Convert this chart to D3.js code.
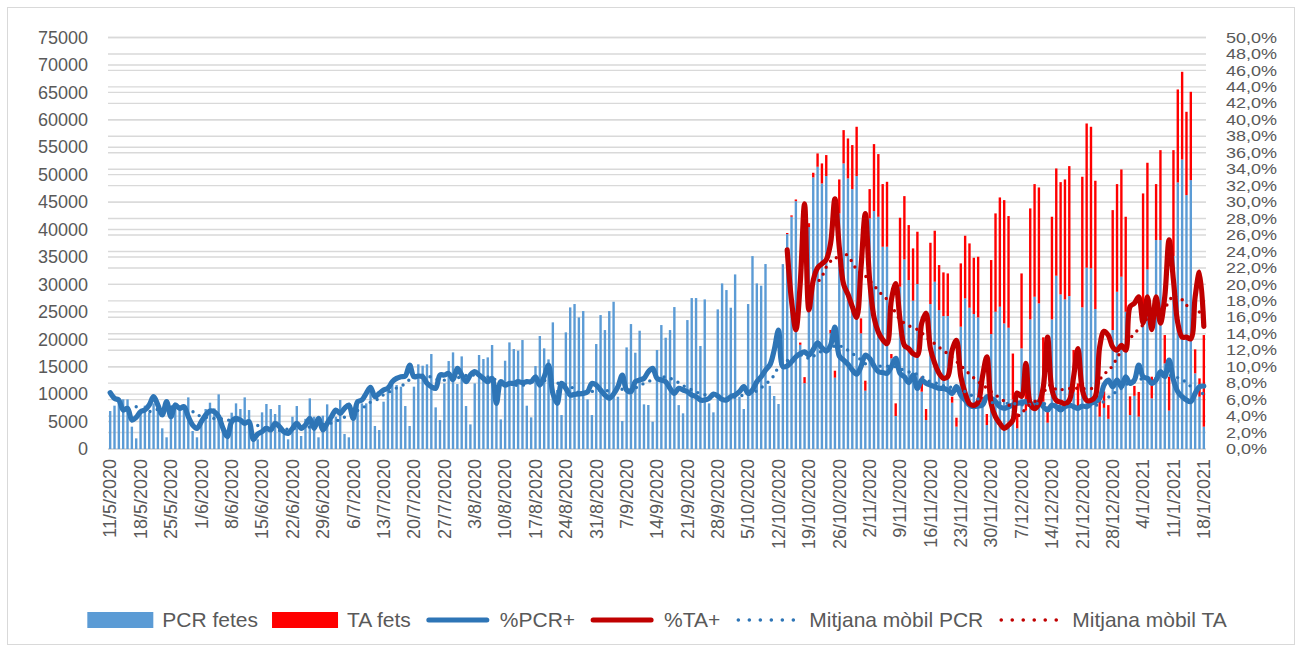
<!DOCTYPE html>
<html>
<head>
<meta charset="utf-8">
<script src="https://cdn.jsdelivr.net/npm/d3@7"></script>
<style>
  body { margin: 0; background: #fff; }
  text { font-family: "Liberation Sans", Arial, sans-serif; fill: #595959; }
</style>
</head>
<body>
<svg id="chart" width="1302" height="650"></svg>
<script>
// one value per day from 11/5/2020 to 18/1/2021, rows are weeks (Mon..Sun)
const firstDay = "11/5/2020";
const lastDay = "18/1/2021";

const pcrFetes = [
  6920, 7900, 9050, 9050, 9050, 4070, 1940,
  6920, 7900, 6620, 8320, 7410, 3770, 2130,
  6920, 8440, 7100, 7710, 9410, 3280, 2130,
  5280, 7290, 8440, 7410, 9960, 3460, 1940,
  6620, 8320, 7290, 9410, 7100, 2550, 1760,
  6680, 8200, 7290, 6380, 8020, 2730, 1760,
  5890, 7830, 2370, 5500, 9230, 5890, 2130,
  6070, 8140, 5280, 5890, 8930, 2730, 2130,
  6500, 9050, 8320, 8320, 11480, 4190, 3460,
  8620, 11660, 11660, 11660, 11360, 7830, 4190,
  11360, 15430, 15180, 15430, 17310, 7590, 5280,
  11960, 16030, 17610, 11840, 16880, 7830, 4490,
  11960, 17130, 16400, 16700, 18950, 9530, 5400,
  16090, 19430, 18220, 17920, 19860, 7890, 5770,
  15120, 20590, 18340, 16340, 23080, 10750, 6190,
  21260, 25810, 26420, 23990, 25140, 9050, 6190,
  19130, 24410, 21680, 25140, 26840, 9530, 5100,
  18520, 22770, 17550, 21560, 8140, 8020, 4980,
  18040, 22590, 20280, 21680, 25870, 8000, 6500,
  23500, 27510, 27510, 18770, 27270, 8320, 6680,
  25450, 30180, 28970, 25750, 31820, 9530, 7290,
  26420, 35160, 30180, 29760, 33710, 11500, 9660,
  8200, 33700, 39170, 42330, 45180, 19000, 12000,
  40450, 49500, 51440, 48400, 49740, 21100, 13000,
  42940, 52050, 49320, 47370, 49740, 21080, 10630,
  42030, 43360, 42330, 36860, 36860, 16520, 6010,
  29580, 34560, 30790, 27030, 30060, 10450, 5280,
  26420, 30490, 25320, 24230, 24230, 8440, 4070,
  22290, 27450, 25750, 24600, 23990, 8000, 4370,
  20950, 25020, 25930, 22890, 22100, 9000, 3770,
  18340, 7000, 23620, 27750, 26540, 8620, 4800,
  23620, 31580, 28180, 27270, 27870, 10450, 7100,
  25810, 33040, 32920, 25510, 5890, 7500, 5500,
  21680, 28660, 31400, 25020, 6190, 9700, 5900,
  25630, 32730, 9230, 38080, 38080, 15600, 7000,
  35160, 48580, 52770, 46280, 49010, 13790, 9530,
  4070
];

const pctPCR = [
  6.84, 6.15, 5.95, 4.74, 4.94, 3.52, 3.85,
  4.53, 4.74, 5.34, 6.36, 5.34, 4.13, 5.75,
  3.93, 5.34, 4.94, 5.14, 3.93, 2.91, 2.51,
  3.32, 4.13, 4.61, 4.53, 3.93, 2.51, 1.50,
  3.32, 3.72, 3.52, 3.12, 3.32, 1.17, 1.82,
  2.11, 2.51, 2.31, 3.12, 2.71, 2.11, 1.90,
  2.51, 3.12, 2.51, 2.91, 3.72, 2.51, 3.72,
  2.31, 3.12, 3.93, 4.74, 4.33, 4.94, 5.34,
  3.72, 5.75, 5.95, 6.76, 7.49, 6.36, 6.76,
  7.17, 7.37, 8.18, 8.58, 8.78, 8.87, 10.20,
  8.78, 8.87, 8.78, 7.98, 7.57, 7.37, 8.99,
  8.99, 9.19, 8.46, 9.80, 8.99, 8.18, 8.99,
  9.39, 8.99, 8.58, 8.18, 8.58, 5.55, 8.18,
  7.77, 7.98, 7.98, 8.18, 8.06, 8.18, 8.18,
  8.78, 7.77, 8.78, 10.20, 6.76, 5.55, 7.98,
  7.37, 6.56, 6.64, 6.68, 6.76, 6.96, 7.98,
  7.77, 7.17, 6.56, 6.15, 6.68, 7.57, 8.99,
  7.17, 6.96, 8.18, 8.38, 8.58, 9.39, 9.80,
  8.58, 8.38, 8.18, 7.37, 6.76, 7.37, 7.17,
  6.96, 6.56, 6.36, 5.95, 5.95, 6.15, 6.68,
  6.44, 6.03, 5.95, 6.36, 6.56, 6.96, 7.57,
  6.76, 7.17, 8.18, 8.78, 9.59, 10.20, 12.02,
  14.45, 10.00, 10.10, 10.60, 11.20, 11.60, 11.80,
  11.40, 12.10, 12.90, 12.30, 11.90, 12.60, 14.80,
  11.30, 10.80, 10.30, 9.60, 9.10, 10.00, 11.40,
  11.00, 10.10, 9.40, 9.30, 9.20, 10.00, 11.01,
  9.19, 8.78, 8.06, 8.99, 7.37, 8.38, 7.98,
  7.77, 7.57, 7.37, 7.37, 7.17, 6.76, 7.57,
  6.56, 5.95, 5.34, 5.14, 5.22, 5.34, 6.36,
  6.15, 5.75, 5.14, 4.94, 5.14, 5.34, 5.55,
  5.63, 5.75, 5.55, 5.34, 5.75, 5.14, 4.74,
  5.34, 5.14, 4.74, 5.14, 5.34, 5.14, 4.94,
  5.22, 5.14, 5.55, 5.75, 6.15, 7.77, 8.38,
  7.57, 8.38, 7.57, 8.78, 7.98, 8.38, 10.20,
  8.78, 8.58, 7.98, 8.38, 9.39, 8.78, 10.81,
  8.38, 6.96, 6.36, 5.95, 5.75, 6.76, 7.57,
  7.65
];

// antigen tests only reported from 12/10/2020
const taFirstDay = "12/10/2020";
const taFets = [
  0, 0, 200, 250, 300, 400, 1100,
  700, 850, 2430, 3650, 3830, 600, 1270,
  6190, 6070, 7280, 8020, 8990, 2730, 1820,
  5340, 12210, 11420, 11420, 11840, 790, 2310,
  12570, 11530, 10020, 9530, 9540, 2730, 2010,
  11170, 9290, 8200, 7960, 7770, 1090, 1640,
  11540, 11420, 11720, 10260, 11050, 1500, 2010,
  13490, 17920, 19920, 22470, 20350, 8400, 2730,
  13660, 5000, 20230, 20530, 21130, 11730, 2910,
  18710, 19550, 20460, 21860, 23690, 7590, 4860,
  23810, 26290, 25810, 23380, 3040, 3000, 2500,
  21860, 19620, 19550, 17310, 3410, 1800, 4500,
  20950, 19440, 3950, 10200, 16390, 5170, 6180,
  19310, 16950, 15980, 15180, 16090, 4370, 3340,
  16700
];
const pctTA = [
  null, null, 24.2, 18.0, 14.5, 20.1, 29.8,
  16.9, 20.5, 22.0, 22.5, 23.0, 25.0, 30.4,
  24.5, 20.0, 18.8, 17.3, 16.0, 22.0, 28.6,
  20.5, 16.0, 14.2, 13.3, 12.8, 18.1, 20.1,
  15.7, 12.6, 12.2, 11.6, 11.4, 15.3, 16.5,
  12.2, 10.4, 9.2, 8.6, 8.8, 12.0, 13.2,
  8.8, 6.8, 5.5, 5.3, 5.7, 8.8, 11.2,
  5.5, 3.9, 3.1, 2.5, 2.9, 3.5, 6.8,
  6.4, 10.4, 5.5, 4.9, 5.5, 7.5, 13.6,
  7.2, 5.9, 5.7, 5.5, 5.9, 8.8, 12.2,
  7.2, 5.9, 5.9, 6.4, 12.4, 14.3, 13.8,
  12.4, 12.0, 12.6, 12.0, 17.3, 17.7, 18.5,
  15.3, 18.5, 14.5, 18.5, 15.3, 18.5, 25.4,
  20.5, 15.3, 13.6, 13.6, 13.4, 18.5, 21.5,
  14.9
];

const leftTicks = [0, 5000, 10000, 15000, 20000, 25000, 30000, 35000, 40000,
  45000, 50000, 55000, 60000, 65000, 70000, 75000];
const rightTicks = [0, 0.02, 0.04, 0.06, 0.08, 0.10, 0.12, 0.14, 0.16, 0.18, 0.20,
  0.22, 0.24, 0.26, 0.28, 0.30, 0.32, 0.34, 0.36, 0.38, 0.40, 0.42, 0.44, 0.46, 0.48, 0.50];
const trendPeriod = 7; // Excel moving-average trendline

const legendItems = [
  { label: "PCR fetes", type: "rect", color: "#5B9BD5" },
  { label: "TA fets", type: "rect", color: "#FF0000" },
  { label: "%PCR+", type: "line", color: "#2E75B6" },
  { label: "%TA+", type: "line", color: "#C00000" },
  { label: "Mitjana mòbil PCR", type: "dot", color: "#2E75B6" },
  { label: "Mitjana mòbil TA", type: "dot", color: "#C00000" }
];

const plotL = 108, plotR = 1206, plotT = 37.5, plotB = 449;

const parse = d3.timeParse("%d/%m/%Y");
const fmt = d3.timeFormat("%-d/%-m/%Y");
const days = d3.timeDay.range(parse(firstDay), d3.timeDay.offset(parse(lastDay), 1));
const cats = days.map(fmt);
const taOffset = cats.indexOf(fmt(parse(taFirstDay)));

const rows = cats.map((c, i) => ({
  cat: c,
  pcr: pcrFetes[i],
  ta: i >= taOffset ? taFets[i - taOffset] : 0,
  ppcr: pctPCR[i] / 100,
  pta: i >= taOffset && pctTA[i - taOffset] != null ? pctTA[i - taOffset] / 100 : null
}));

function movingAvg(vals, n) {
  return vals.map((v, i) => {
    if (i < n - 1) return null;
    const win = vals.slice(i - n + 1, i + 1);
    if (win.some(d => d == null)) return null;
    return d3.mean(win);
  });
}
const maPCR = movingAvg(rows.map(d => d.ppcr), trendPeriod);
const maTA = movingAvg(rows.map(d => d.pta), trendPeriod);

const svg = d3.select("#chart");

svg.append("rect")
  .attr("x", 7.5).attr("y", 7.5)
  .attr("width", 1287).attr("height", 637)
  .attr("fill", "#fff")
  .attr("stroke", "#D9D9D9").attr("stroke-width", 1);

const x = d3.scaleBand().domain(cats).range([plotL, plotR])
  .paddingInner(0.45).paddingOuter(0.225);
const yL = d3.scaleLinear().domain([0, 75000]).range([plotB, plotT]);
const yR = d3.scaleLinear().domain([0, 0.5]).range([plotB, plotT]);
const cx = c => x(c) + x.bandwidth() / 2;

// gridlines for both value axes
const grid = svg.append("g");
grid.selectAll("line.gl").data(leftTicks).enter().append("line")
  .attr("x1", plotL).attr("x2", plotR)
  .attr("y1", d => yL(d)).attr("y2", d => yL(d))
  .attr("stroke", "#D9D9D9").attr("stroke-width", 1.4);
grid.selectAll("line.gr").data(rightTicks).enter().append("line")
  .attr("x1", plotL).attr("x2", plotR)
  .attr("y1", d => yR(d)).attr("y2", d => yR(d))
  .attr("stroke", "#D9D9D9").attr("stroke-width", 1.4);

// stacked bars
const stack = d3.stack().keys(["pcr", "ta"])(rows);
const barColors = { pcr: "#5B9BD5", ta: "#FF0000" };
svg.append("g").selectAll("g").data(stack).enter().append("g")
  .attr("fill", d => barColors[d.key])
  .selectAll("rect").data(d => d).enter().append("rect")
  .attr("x", d => x(d.data.cat))
  .attr("width", x.bandwidth())
  .attr("y", d => yL(d[1]))
  .attr("height", d => yL(d[0]) - yL(d[1]));

// rate lines
const smooth = d3.line()
  .defined(d => d[1] != null)
  .x(d => cx(d[0]))
  .y(d => yR(d[1]))
  .curve(d3.curveCatmullRom.alpha(0.5));
const straight = d3.line()
  .defined(d => d[1] != null)
  .x(d => cx(d[0]))
  .y(d => yR(d[1]));

svg.append("path")
  .attr("d", smooth(rows.map(d => [d.cat, d.ppcr])))
  .attr("fill", "none").attr("stroke", "#2E75B6")
  .attr("stroke-width", 5.2).attr("stroke-linejoin", "round").attr("stroke-linecap", "round");
svg.append("path")
  .attr("d", smooth(rows.map(d => [d.cat, d.pta])))
  .attr("fill", "none").attr("stroke", "#C00000")
  .attr("stroke-width", 5.2).attr("stroke-linejoin", "round").attr("stroke-linecap", "round");

// moving-average trendlines (round dots)
svg.append("path")
  .attr("d", straight(rows.map((d, i) => [d.cat, maPCR[i]])))
  .attr("fill", "none").attr("stroke", "#2E75B6")
  .attr("stroke-width", 3.4).attr("stroke-linecap", "round")
  .attr("stroke-dasharray", "0 7.5");
svg.append("path")
  .attr("d", straight(rows.map((d, i) => [d.cat, maTA[i]])))
  .attr("fill", "none").attr("stroke", "#C00000")
  .attr("stroke-width", 3.4).attr("stroke-linecap", "round")
  .attr("stroke-dasharray", "0 7.5");

// axes
const axL = svg.append("g").attr("transform", `translate(${plotL},0)`)
  .call(d3.axisLeft(yL).tickValues(leftTicks).tickSize(0).tickPadding(20).tickFormat(d3.format("d")));
const axR = svg.append("g").attr("transform", `translate(${plotR},0)`)
  .call(d3.axisRight(yR).tickValues(rightTicks).tickSize(0).tickPadding(20)
    .tickFormat(d => (d * 100).toFixed(1).replace(".", ",") + "%"));
const axB = svg.append("g").attr("transform", `translate(0,${plotB})`)
  .call(d3.axisBottom(x).tickValues(cats.filter((c, i) => i % 7 === 0)).tickSize(0));
[axL, axR, axB].forEach(a => {
  a.select(".domain").remove();
  a.selectAll("text").style("font-size", "18px").attr("fill", "#595959")
    .style("font-family", '"Liberation Sans", Arial, sans-serif');
});
// right labels sit 2% apart: keep their width, use a smaller glyph height so they don't collide
axR.selectAll("text").each(function () {
  const w = this.getComputedTextLength();
  d3.select(this).style("font-size", "14.5px")
    .attr("textLength", w).attr("lengthAdjust", "spacingAndGlyphs");
});
axB.selectAll("text")
  .attr("transform", "rotate(-90)")
  .attr("text-anchor", "end")
  .attr("x", -10).attr("y", 0).attr("dy", "0.35em");

// legend
const lg = svg.append("g");
const legY = 620, sw = 66, gapText = 9, gapItem = 14;
let lx = 0;
legendItems.forEach(it => {
  const g = lg.append("g").attr("transform", `translate(${lx},0)`);
  if (it.type === "rect") {
    g.append("rect").attr("x", 0).attr("y", legY - 8).attr("width", sw).attr("height", 16).attr("fill", it.color);
  } else {
    g.append("line").attr("x1", 4).attr("x2", sw - 4).attr("y1", legY).attr("y2", legY)
      .attr("stroke", it.color).attr("stroke-linecap", "round")
      .attr("stroke-width", it.type === "line" ? 5 : 3.6)
      .attr("stroke-dasharray", it.type === "dot" ? "0 11" : null);
  }
  const t = g.append("text").attr("x", sw + gapText).attr("y", legY).attr("dy", "0.35em")
    .style("font-size", "21px").text(it.label);
  lx += sw + gapText + t.node().getComputedTextLength() + gapItem;
});
const legW = lx - gapItem;
lg.attr("transform", `translate(${(86 + 1228) / 2 - legW / 2},0)`);
</script>
</body>
</html>
